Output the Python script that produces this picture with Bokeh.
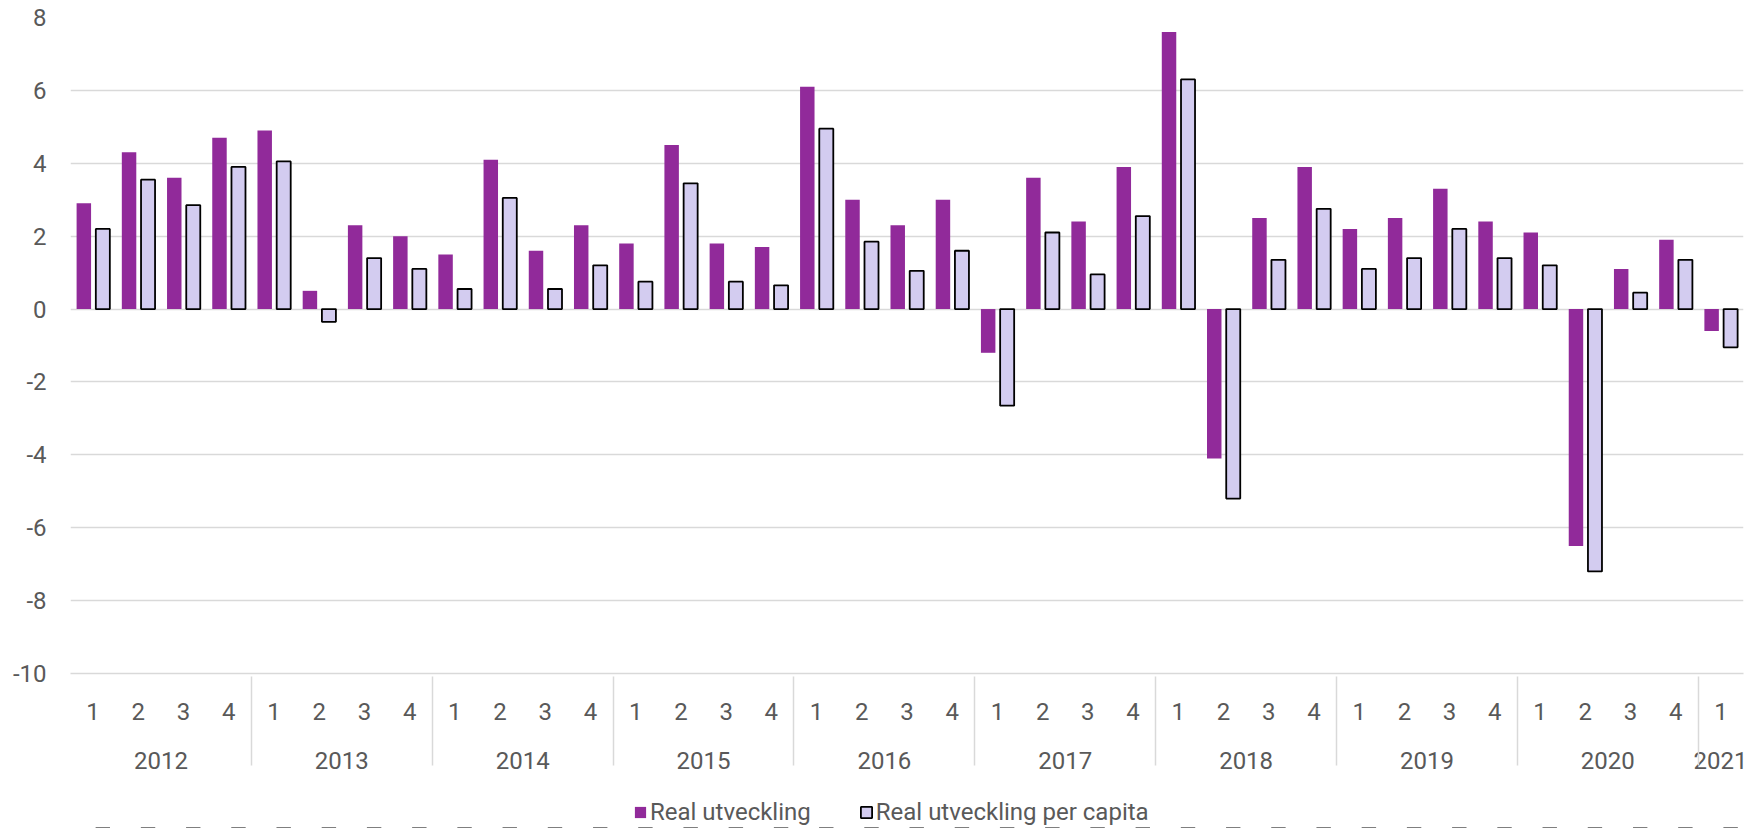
from bokeh.plotting import figure
from bokeh.layouts import column
from bokeh.models import (ColumnDataSource, FactorRange, Range1d, FixedTicker,
                          Legend, LegendItem)
from bokeh.transform import dodge
from bokeh.embed import file_html
from bokeh.resources import INLINE

# ---- data ----
years = ["2012", "2013", "2014", "2015", "2016", "2017", "2018", "2019", "2020", "2021"]
quarters_per_year = [4, 4, 4, 4, 4, 4, 4, 4, 4, 1]
quarters = ["1", "2", "3", "4"]

real = [2.9, 4.3, 3.6, 4.7,
        4.9, 0.5, 2.3, 2.0,
        1.5, 4.1, 1.6, 2.3,
        1.8, 4.5, 1.8, 1.7,
        6.1, 3.0, 2.3, 3.0,
        -1.2, 3.6, 2.4, 3.9,
        7.6, -4.1, 2.5, 3.9,
        2.2, 2.5, 3.3, 2.4,
        2.1, -6.5, 1.1, 1.9,
        -0.6]
per_capita = [2.2, 3.55, 2.85, 3.9,
              4.05, -0.35, 1.4, 1.1,
              0.55, 3.05, 0.55, 1.2,
              0.75, 3.45, 0.75, 0.65,
              4.95, 1.85, 1.05, 1.6,
              -2.65, 2.1, 0.95, 2.55,
              6.3, -5.2, 1.35, 2.75,
              1.1, 1.4, 2.2, 1.4,
              1.2, -7.2, 0.45, 1.35,
              -1.05]
series_names = ["Real utveckling", "Real utveckling per capita"]
y_ticks = [-10, -8, -6, -4, -2, 0, 2, 4, 6, 8]
y_tick_labels = ["-10", "-8", "-6", "-4", "-2", "0", "2", "4", "6", "8"]

# ---- styles ----
PURPLE = "#912A9A"
LAVENDER = "#D3CCF0"
GRID = "#D9D9D9"
TEXT = "#595959"
FONT = "Roboto"
FS = "24px"

factors = [(y, q) for y, n in zip(years, quarters_per_year) for q in quarters[:n]]
src = ColumnDataSource(dict(x=factors, real=real, pc=per_capita))

x_range = FactorRange(factors=factors, group_padding=0, factor_padding=0,
                      range_padding=0)
p = figure(x_range=x_range, y_range=Range1d(y_ticks[0], y_ticks[-1]),
           width=1747, height=780, output_backend="svg", toolbar_location=None,
           min_border_left=70, min_border_right=4, min_border_top=17,
           min_border_bottom=107)
p.outline_line_color = None
p.background_fill_color = "white"

r1 = p.vbar(x=dodge("x", -0.205, range=p.x_range), top="real", width=0.32,
            source=src, fill_color=PURPLE, line_color=None)
r2 = p.vbar(x=dodge("x", 0.215, range=p.x_range), top="pc", width=0.31,
            source=src, fill_color=LAVENDER, line_color="black", line_width=1.8)

# grid
p.xgrid.visible = False
p.ygrid.grid_line_color = GRID
p.ygrid.grid_line_width = 1.5

# y axis
ya = p.yaxis[0]
ya.ticker = FixedTicker(ticks=y_ticks)
ya.major_label_overrides = {t: l for t, l in zip(y_ticks, y_tick_labels)}
ya.axis_line_color = None
ya.major_tick_line_color = None
ya.minor_tick_line_color = None
ya.major_tick_out = 0
ya.major_tick_in = 0
ya.major_label_standoff = 24
ya.major_label_text_font = FONT
ya.major_label_text_font_size = FS
ya.major_label_text_color = TEXT

# x axis (quarters + years)
xa = p.xaxis[0]
xa.axis_line_color = GRID
xa.axis_line_width = 1.5
xa.major_tick_line_color = None
xa.minor_tick_line_color = None
xa.major_tick_out = 0
xa.major_tick_in = 0
xa.major_label_standoff = 29
xa.major_label_text_font = FONT
xa.major_label_text_font_size = FS
xa.major_label_text_color = TEXT
xa.group_text_font = FONT
xa.group_text_font_size = FS
xa.group_text_font_style = "normal"
xa.group_text_color = TEXT
xa.separator_line_color = GRID
xa.separator_line_width = 1.5

# ---- legend strip below the chart (its bars sit outside its visible y range) ----
lp = figure(width=1747, height=48, output_backend="svg", toolbar_location=None,
            x_range=p.x_range, y_range=Range1d(100, 101),
            x_axis_location=None, y_axis_location=None, min_border=0)
lp.outline_line_color = None
lp.grid.visible = False
l1 = lp.vbar(x=dodge("x", -0.205, range=lp.x_range), top="real", width=0.32,
             source=src, fill_color=PURPLE, line_color=None)
l2 = lp.vbar(x=dodge("x", 0.215, range=lp.x_range), top="pc", width=0.31,
             source=src, fill_color=LAVENDER, line_color="black", line_width=1.8)
legend = Legend(items=[LegendItem(label=series_names[0], renderers=[l1]),
                       LegendItem(label=series_names[1], renderers=[l2])],
                orientation="horizontal", location=(563, 2),
                glyph_width=14, glyph_height=14, label_standoff=3, spacing=48,
                padding=0, margin=0, border_line_color=None,
                background_fill_alpha=0,
                label_text_font=FONT, label_text_font_size=FS,
                label_text_color=TEXT)
lp.add_layout(legend, "center")

layout = column(p, lp, spacing=0)
open("out.html", "w").write(file_html(layout, INLINE))
